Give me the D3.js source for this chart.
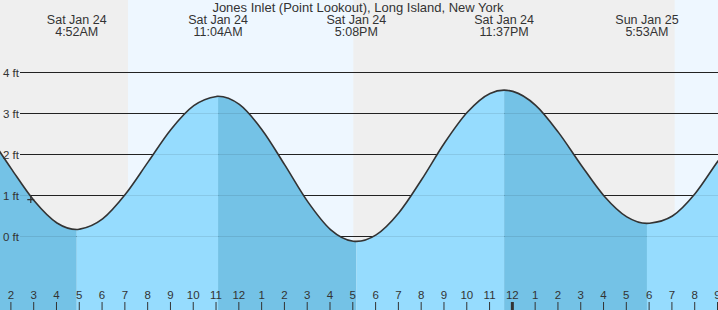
<!DOCTYPE html>
<html>
<head>
<meta charset="utf-8">
<script src="https://cdn.jsdelivr.net/npm/d3@7"></script>
<style>
  html, body { margin: 0; padding: 0; background: #fff; }
  svg { display: block; font-family: "Liberation Sans", Arial, sans-serif; }
  .lbl { fill: #333; }
</style>
</head>
<body>
<div id="chart"></div>
<script>
// *******************
// tide chart for Jones Inlet
// *******************

const TITLE = "Jones Inlet (Point Lookout), Long Island, New York";

// hourly heights (ft), estimated from the curve
const tideTimes = [
  "2026-01-24T01:00", "2026-01-24T02:00", "2026-01-24T03:00", "2026-01-24T04:00",
  "2026-01-24T05:00", "2026-01-24T06:00", "2026-01-24T07:00", "2026-01-24T08:00",
  "2026-01-24T09:00", "2026-01-24T10:00", "2026-01-24T11:00", "2026-01-24T12:00",
  "2026-01-24T13:00", "2026-01-24T14:00", "2026-01-24T15:00", "2026-01-24T16:00",
  "2026-01-24T17:00", "2026-01-24T18:00", "2026-01-24T19:00", "2026-01-24T20:00",
  "2026-01-24T21:00", "2026-01-24T22:00", "2026-01-24T23:00", "2026-01-25T00:00",
  "2026-01-25T01:00", "2026-01-25T02:00", "2026-01-25T03:00", "2026-01-25T04:00",
  "2026-01-25T05:00", "2026-01-25T06:00", "2026-01-25T07:00", "2026-01-25T08:00",
  "2026-01-25T09:00", "2026-01-25T10:00"
];
const tideHeights = [
  2.48, 1.65, 0.87, 0.33,
  0.18, 0.43, 1.03, 1.82,
  2.61, 3.19, 3.415, 3.22,
  2.60, 1.74, 0.85, 0.17,
  -0.115, 0.04, 0.58, 1.39,
  2.28, 3.03, 3.49, 3.54,
  3.20, 2.54, 1.74, 0.99,
  0.48, 0.325, 0.50, 1.05,
  1.84, 2.57
];

// high / low predictions
const extremeTimes = [
  "2026-01-24T04:52", "2026-01-24T11:04", "2026-01-24T17:08",
  "2026-01-24T23:37", "2026-01-25T05:53"
];
const extremeHeights = [0.17, 3.42, -0.12, 3.57, 0.32];

// daylight periods
const dayStarts = ["2026-01-24T07:07", "2026-01-25T07:06"];
const dayEnds = ["2026-01-24T17:00", "2026-01-25T17:01"];

const gridFeet = [0, 1, 2, 3, 4];

// current time marker
const nowTime = "2026-01-24T02:51";
const nowHeight = 0.9;

const START = "2026-01-24T01:30";
const END = "2026-01-25T09:00";

const W = 718, H = 310;
const COLORS = {
  night: "#efefef",
  day: "#eef7ff",
  rising: "#96dcfe",
  falling: "#74c2e6",
  ink: "#333"
};

const parse = (s) => new Date(s);

const svg = d3.select("#chart").append("svg")
  .attr("width", W)
  .attr("height", H);

const x = d3.scaleTime().domain([parse(START), parse(END)]).range([0, W]);
const y = d3.scaleLinear().domain([0, 4]).range([236.5, 72.5]);

// merge hourly readings with the extremes so the curve hits them
const extremes = extremeTimes.map((t, i) => ({ t: parse(t), v: extremeHeights[i] }));
const points = tideTimes.map((t, i) => ({ t: parse(t), v: tideHeights[i] }))
  .concat(extremes)
  .sort((a, b) => a.t - b.t);

// **1. background: night then daylight bands**
svg.append("rect")
  .attr("width", W).attr("height", H)
  .attr("fill", COLORS.night);

svg.selectAll("rect.day")
  .data(dayStarts)
  .enter()
  .append("rect")
  .attr("class", "day")
  .attr("x", (d) => x(parse(d)))
  .attr("y", 0)
  .attr("width", (d, i) => Math.min(W, x(parse(dayEnds[i]))) - x(parse(d)))
  .attr("height", H)
  .attr("fill", COLORS.day);

// **2. grid lines**
svg.selectAll("line.grid")
  .data(gridFeet)
  .enter()
  .append("line")
  .attr("class", "grid")
  .attr("x1", 20).attr("x2", W)
  .attr("y1", (d) => y(d)).attr("y2", (d) => y(d))
  .attr("stroke", "#222")
  .attr("stroke-width", 1);

// **3. tide fill, shaded by rising / falling**
const area = d3.area()
  .x((d) => x(d.t))
  .y0(H)
  .y1((d) => y(d.v))
  .curve(d3.curveMonotoneX);

const line = d3.line()
  .x((d) => x(d.t))
  .y((d) => y(d.v))
  .curve(d3.curveMonotoneX);

svg.append("clipPath")
  .attr("id", "tide-clip")
  .append("path")
  .attr("d", area(points));

// a stretch is rising when the extreme it ends on is a high
const bounds = [parse(START)].concat(extremes.map((d) => d.t), [parse(END)]);
const segments = d3.pairs(bounds).map(([a, b], i) => {
  const target = extremes[i];
  const rising = target ? target.v > 1.5 : extremes[i - 1].v < 1.5;
  return { a, b, rising };
});

svg.append("g")
  .attr("clip-path", "url(#tide-clip)")
  .selectAll("rect")
  .data(segments)
  .enter()
  .append("rect")
  .attr("x", (d) => x(d.a))
  .attr("y", 0)
  .attr("width", (d) => x(d.b) - x(d.a))
  .attr("height", H)
  .attr("fill", (d) => (d.rising ? COLORS.rising : COLORS.falling));

// faint grid lines through the water
svg.append("g")
  .attr("clip-path", "url(#tide-clip)")
  .selectAll("line")
  .data(gridFeet)
  .enter()
  .append("line")
  .attr("x1", 20).attr("x2", W)
  .attr("y1", (d) => y(d)).attr("y2", (d) => y(d))
  .attr("stroke", "rgba(0,0,0,0.09)");

// **4. tide curve**
svg.append("path")
  .attr("d", line(points))
  .attr("fill", "none")
  .attr("stroke", COLORS.ink)
  .attr("stroke-width", 1.6);

// **5. labels**
svg.selectAll("text.ft")
  .data(gridFeet)
  .enter()
  .append("text")
  .attr("class", "lbl ft")
  .attr("x", 3)
  .attr("y", (d) => y(d) + 4)
  .attr("font-size", 11.5)
  .text((d) => `${d} ft`);

svg.append("text")
  .attr("class", "lbl")
  .attr("x", 358)
  .attr("y", 12)
  .attr("text-anchor", "middle")
  .attr("font-size", 13)
  .text(TITLE);

const fmtDay = d3.timeFormat("%a %b %d");
const fmtTime = d3.timeFormat("%-I:%M%p");

const extremeLabels = svg.selectAll("g.extreme")
  .data(extremes)
  .enter()
  .append("g")
  .attr("class", "extreme")
  .attr("transform", (d) => `translate(${x(d.t)}, 0)`);

extremeLabels.append("text")
  .attr("class", "lbl")
  .attr("y", 23.5)
  .attr("text-anchor", "middle")
  .attr("font-size", 12.5)
  .text((d) => fmtDay(d.t));

extremeLabels.append("text")
  .attr("class", "lbl")
  .attr("y", 35.5)
  .attr("text-anchor", "middle")
  .attr("font-size", 12.5)
  .text((d) => fmtTime(d.t));

// **6. hour axis along the bottom**
const axis = d3.axisTop(x)
  .ticks(d3.timeHour.every(1))
  .tickFormat(d3.timeFormat("%-I"))
  .tickSize(8)
  .tickPadding(3);

const axisG = svg.append("g")
  .attr("transform", `translate(-1, ${H})`)
  .call(axis);

axisG.select(".domain").remove();
axisG.selectAll(".tick line")
  .attr("stroke", COLORS.ink)
  .attr("stroke-width", (d) => (d.getHours() === 0 ? 3 : 1));
axisG.selectAll(".tick text")
  .attr("fill", COLORS.ink)
  .attr("font-size", 11.5)
  .attr("font-family", "Liberation Sans, Arial, sans-serif");

// **7. current time marker**
const nx = x(parse(nowTime));
const ny = y(nowHeight);
svg.append("path")
  .attr("d", `M${nx - 3.5},${ny}H${nx + 3.5}M${nx},${ny - 3.5}V${ny + 3.5}`)
  .attr("stroke", COLORS.ink)
  .attr("stroke-width", 1.2);
</script>
</body>
</html>
